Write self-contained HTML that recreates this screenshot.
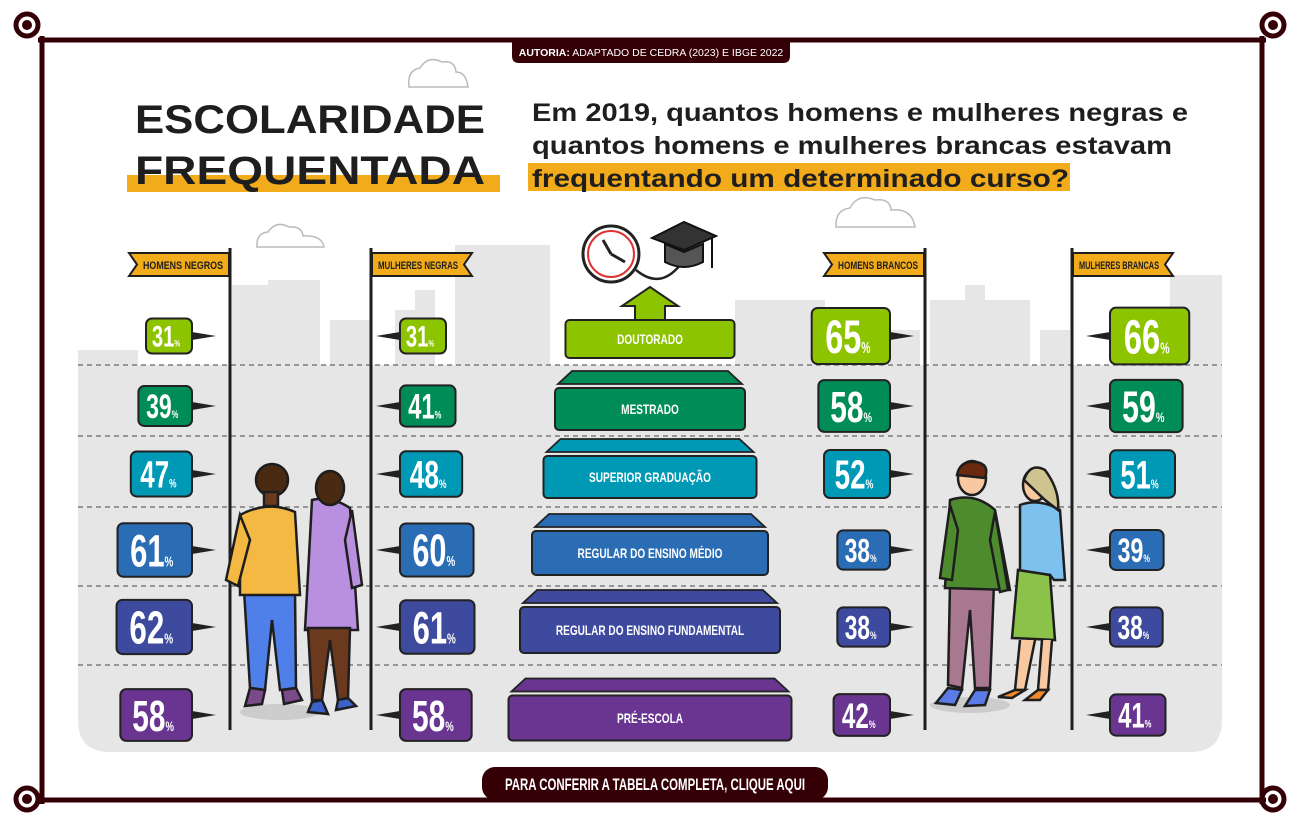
<!DOCTYPE html>
<html><head><meta charset="utf-8">
<style>
html,body{margin:0;padding:0;background:#fff;}
body{width:1300px;height:821px;overflow:hidden;position:relative;font-family:"Liberation Sans",sans-serif;}
svg{position:absolute;left:0;top:0;}
.cond{font-family:"Liberation Sans",sans-serif;font-weight:bold;}
</style></head>
<body>
<svg id="chart" width="1300" height="821" viewBox="0 0 1300 821">
  <g fill="#e6e6e6">
    <path d="M78 365 H1222 V720 Q1222 752 1190 752 H110 Q78 752 78 720 Z"/>
    <rect x="232" y="285" width="36" height="80"/>
    <rect x="268" y="280" width="52" height="85"/>
    <rect x="330" y="320" width="40" height="45"/>
    <rect x="395" y="310" width="30" height="55"/>
    <rect x="415" y="290" width="20" height="75"/>
    <rect x="455" y="245" width="95" height="120"/>
    <rect x="735" y="300" width="90" height="65"/>
    <rect x="890" y="330" width="30" height="35"/>
    <rect x="930" y="300" width="100" height="65"/>
    <rect x="965" y="285" width="20" height="20"/>
    <rect x="1040" y="330" width="30" height="35"/>
    <rect x="1170" y="275" width="52" height="90"/>
    <rect x="78" y="350" width="60" height="15"/>
  </g>
  <g stroke="#666" stroke-width="1.3" stroke-dasharray="5 4">
    <line x1="78" y1="365" x2="1222" y2="365"/>
    <line x1="78" y1="436" x2="1222" y2="436"/>
    <line x1="78" y1="507" x2="1222" y2="507"/>
    <line x1="78" y1="586" x2="1222" y2="586"/>
    <line x1="78" y1="665" x2="1222" y2="665"/>
  </g>
  <g fill="none" stroke="#bbb" stroke-width="1.5">
    <path d="M409 87 Q407 70 420 68 Q428 55 442 62 Q455 60 456 72 Q466 72 468 87 Z"/>
    <path d="M257 247 Q256 233 268 232 Q276 220 289 227 Q302 226 303 236 Q322 235 324 247 Z"/>
    <path d="M836 227 Q835 210 850 208 Q858 193 875 200 Q890 198 891 210 Q912 208 915 227 Z"/>
  </g>
  <g stroke="#350005" stroke-width="5" fill="none">
    <line x1="38" y1="40" x2="1266" y2="40"/>
    <line x1="38" y1="800" x2="1266" y2="800"/>
    <line x1="42" y1="36" x2="42" y2="804"/>
    <line x1="1262" y1="36" x2="1262" y2="804"/>
    <circle cx="27" cy="25" r="11"/><circle cx="1273" cy="25" r="11"/>
    <circle cx="27" cy="799" r="11"/><circle cx="1273" cy="799" r="11"/>
  </g>
  <g fill="#350005"><circle cx="27" cy="25" r="5"/><circle cx="1273" cy="25" r="5"/><circle cx="27" cy="799" r="5"/><circle cx="1273" cy="799" r="5"/></g>
  <g>
    <path d="M512 40 H790 V56 Q790 63 783 63 H519 Q512 63 512 56 Z" fill="#350005"/>
    <text x="651" y="56" text-anchor="middle" font-size="10.5" fill="#fff"><tspan font-weight="bold">AUTORIA:</tspan> ADAPTADO DE CEDRA (2023) E IBGE 2022</text>
  </g>
  <rect x="127" y="175" width="373" height="17" fill="#f2ab1a"/>
  <text x="135" y="133" font-size="40" font-weight="bold" fill="#1e1e1e" textLength="350" lengthAdjust="spacingAndGlyphs">ESCOLARIDADE</text>
  <text x="135" y="184" font-size="40" font-weight="bold" fill="#1e1e1e" textLength="350" lengthAdjust="spacingAndGlyphs">FREQUENTADA</text>
  <rect x="528" y="163" width="542" height="28" fill="#f2ab1a"/>
  <g font-size="25" font-weight="bold" fill="#1e1e1e">
    <text x="532" y="121" textLength="656" lengthAdjust="spacingAndGlyphs">Em 2019, quantos homens e mulheres negras e</text>
    <text x="532" y="154" textLength="640" lengthAdjust="spacingAndGlyphs">quantos homens e mulheres brancas estavam</text>
    <text x="532" y="187" textLength="537" lengthAdjust="spacingAndGlyphs">frequentando um determinado curso?</text>
  </g>
  <g stroke="#1e1e1e" stroke-width="3">
    <line x1="230" y1="248" x2="230" y2="730"/><line x1="371" y1="248" x2="371" y2="730"/>
    <line x1="925" y1="248" x2="925" y2="730"/><line x1="1072" y1="248" x2="1072" y2="730"/>
  </g>
  <g id="flags"></g>
  <g>
    <circle cx="611" cy="254" r="28" fill="#fff" stroke="#222" stroke-width="3"/>
    <circle cx="611" cy="254" r="23" fill="none" stroke="#d33" stroke-width="2"/>
    <line x1="611" y1="254" x2="603" y2="240" stroke="#222" stroke-width="3"/>
    <line x1="611" y1="254" x2="625" y2="262" stroke="#222" stroke-width="3"/>
    <path d="M636 270 Q660 290 680 265" fill="none" stroke="#222" stroke-width="2.5"/>
    <path d="M652 238 L684 222 L716 236 L684 250 Z" fill="#333" stroke="#111" stroke-width="2"/>
    <path d="M665 244 V262 Q684 272 703 262 V244 L684 252 Z" fill="#555" stroke="#111" stroke-width="2"/>
    <line x1="712" y1="238" x2="712" y2="268" stroke="#111" stroke-width="2"/>
    <path d="M635 320 L635 306 L622 306 L650 287 L678 306 L665 306 L665 320 Z" fill="#8dc400" stroke="#222" stroke-width="2"/>
  </g>
  <g id="steps"></g>
  <g id="bubbles"></g>
  <g stroke="#1e1e1e" stroke-width="2.5">
    <ellipse cx="280" cy="712" rx="40" ry="8" fill="#ccc" stroke="none"/>
    <path d="M244 590 L250 688 L265 690 L272 620 L280 690 L296 688 L295 590 Z" fill="#4f7fe8"/>
    <path d="M240 515 Q268 500 295 512 L300 595 L240 595 Z" fill="#f4b942"/>
    <path d="M240 515 L226 580 L238 586 L250 540 Z" fill="#f4b942"/>
    <circle cx="272" cy="480" r="16" fill="#4a2a10"/>
    <rect x="264" y="492" width="14" height="14" fill="#6b3a1e"/>
    <path d="M250 688 L245 706 L262 704 L265 690 Z" fill="#7a4a8a"/>
    <path d="M282 690 L284 704 L302 700 L296 688 Z" fill="#7a4a8a"/>
    <path d="M312 500 Q330 495 350 508 L358 630 L305 630 Z" fill="#b98fe0"/>
    <path d="M308 628 L312 700 L322 700 L330 640 L338 700 L348 698 L350 628 Z" fill="#6b3a1e"/>
    <path d="M352 510 L362 585 L352 588 L345 540 Z" fill="#b98fe0"/>
    <ellipse cx="330" cy="488" rx="14" ry="17" fill="#4a2a10"/>
    <path d="M312 702 L308 712 L328 714 L322 700 Z M338 700 L336 710 L356 706 L348 698 Z" fill="#3c62c9"/>
  </g>
  <g stroke="#1e1e1e" stroke-width="2.5">
    <ellipse cx="970" cy="705" rx="40" ry="8" fill="#ccc" stroke="none"/>
    <path d="M950 583 L948 685 L962 688 L970 610 L975 688 L990 688 L994 583 Z" fill="#a87890"/>
    <path d="M950 500 Q975 492 995 510 L1010 590 L945 588 Z" fill="#4e8a2e"/>
    <path d="M950 505 L940 578 L952 580 L958 530 Z" fill="#4e8a2e"/>
    <path d="M995 512 L1008 590 L1000 592 L990 540 Z" fill="#4e8a2e"/>
    <ellipse cx="972" cy="478" rx="14" ry="17" fill="#f8c9a0"/>
    <path d="M957 475 Q960 460 976 462 Q990 464 985 478 Z" fill="#6b2a10"/>
    <path d="M948 688 L936 703 L955 705 L962 690 Z M975 690 L965 706 L985 705 L990 690 Z" fill="#5a7be8"/>
    <path d="M1020 505 Q1040 498 1060 510 L1065 580 L1054 580 L1050 575 L1020 572 Z" fill="#7ec1ef"/>
    <path d="M1018 570 L1012 638 L1055 640 L1050 575 Z" fill="#8bc34a"/>
    <path d="M1020 640 L1015 690 L1025 690 L1035 640 M1042 640 L1038 690 L1048 690 L1052 640" fill="#f8c9a0"/>
    <ellipse cx="1035" cy="485" rx="12" ry="16" fill="#f8c9a0"/>
    <path d="M1024 480 Q1030 462 1045 470 Q1060 490 1058 510 L1045 500 Z" fill="#cfc38f"/>
    <path d="M1015 690 L998 697 L1012 698 L1025 690 Z M1038 690 L1025 700 L1040 700 L1048 690 Z" fill="#f08a2a"/>
  </g>
  <g>
    <rect x="482" y="767" width="346" height="33" rx="13" fill="#350005"/>
    <text x="655" y="790" text-anchor="middle" class="cond" font-size="17" fill="#fff" textLength="300" lengthAdjust="spacingAndGlyphs">PARA CONFERIR A TABELA COMPLETA, CLIQUE AQUI</text>
  </g>
</svg>
<script>
const NS='http://www.w3.org/2000/svg';
const levels=['DOUTORADO','MESTRADO','SUPERIOR GRADUAÇÃO','REGULAR DO ENSINO MÉDIO','REGULAR DO ENSINO FUNDAMENTAL','PRÉ-ESCOLA'];
const groups=['HOMENS NEGROS','MULHERES NEGRAS','HOMENS BRANCOS','MULHERES BRANCAS'];
const homensNegros=[31,39,47,61,62,58];
const mulheresNegras=[31,41,48,60,61,58];
const homensBrancos=[65,58,52,38,38,42];
const mulheresBrancas=[66,59,51,39,38,41];
const colors=['#8dc400','#008c56','#0099b5','#2a6db5','#3e4a9e','#6a3591'];

const rowY=[336,406,474,550,627,715];
function el(tag,attrs,parent){const e=document.createElementNS(NS,tag);for(const k in attrs)e.setAttribute(k,attrs[k]);parent.appendChild(e);return e;}
function bh(v){return 35+(v-31)*0.62;}
function bw(v){return 46+(v-31)*0.95;}

const fl=document.getElementById('flags');
const flagDefs=[[232,'r'],[369,'l'],[927,'r'],[1070,'l']];
groups.forEach((g,i)=>{
  const [x,dir]=flagDefs[i];const w=98;const x0=dir==='r'?x-w-3:x+3;
  const gg=el('g',{},fl);
  
  
  const y0=253,y1=276;
  let d;
  if(dir==='r') d=`M${x0-2} ${y0} L${x0+w} ${y0} L${x0+w} ${y1} L${x0-2} ${y1} L${x0+6} ${(y0+y1)/2} Z`;
  else d=`M${x0} ${y0} L${x0+w+2} ${y0} L${x0+w-6} ${(y0+y1)/2} L${x0+w+2} ${y1} L${x0} ${y1} Z`;
  el('path',{d:d,fill:'#f2ab1a',stroke:'#1e1e1e','stroke-width':2},gg);
  const t=el('text',{x:x0+w/2+(dir==='r'?3:-3),y:269,'text-anchor':'middle','font-size':11,fill:'#1e1e1e',class:'cond',textLength:80,lengthAdjust:'spacingAndGlyphs'},gg);
  t.textContent=g;
});

const stepW=[169,190,213,236,260,283];
const stepH=[38,42,42,44,46,45];
const st=document.getElementById('steps');
levels.forEach((lv,i)=>{
  const cx=650,y=rowY[i]-stepH[i]/2+3,w=stepW[i],h=stepH[i];
  const g=el('g',{},st);
  
  
  if(i>0){
    const ty=y-17,tw=w-6;
    el('path',{d:`M${cx-tw/2+14} ${ty} H${cx+tw/2-14} L${cx+tw/2} ${ty+13} H${cx-tw/2} Z`,fill:colors[i],stroke:'#222','stroke-width':1.8},g);
  }
  el('rect',{x:cx-w/2,y:y,width:w,height:h,rx:4,fill:colors[i],stroke:'#222','stroke-width':2},g);
  const tg=el('g',{transform:`translate(${cx} ${y+h/2+5}) scale(0.72 1)`},g);
  const t=el('text',{x:0,y:0,'text-anchor':'middle','font-size':14,fill:'#fff',class:'cond'},tg);
  t.textContent=lv;
});

const series=[[homensNegros,'right',192,'homens-negros'],[mulheresNegras,'left',400,'mulheres-negras'],[homensBrancos,'right',890,'homens-brancos'],[mulheresBrancas,'left',1110,'mulheres-brancas']];
const bb=document.getElementById('bubbles');
series.forEach(([vals,side,anchor,name])=>{
  vals.forEach((v,i)=>{
    const h=bh(v),w=bw(v),cy=rowY[i];
    const x=side==='right'?anchor-w:anchor;
    const g=el('g',{},bb);
    
    
    const tx=side==='right'?anchor+24:anchor-24;
    el('path',{d:`M${anchor} ${cy-4} L${tx} ${cy} L${anchor} ${cy+4} Z`,fill:'#222'},g);
    el('rect',{x:x,y:cy-h/2,width:w,height:h,rx:6,fill:colors[i],stroke:'#222','stroke-width':2},g);
    const fs=h*0.85;
    const tg=el('g',{transform:`translate(${x+w/2-3} ${cy+fs*0.36}) scale(0.68 1)`},g);
    const t=el('text',{x:0,y:0,'text-anchor':'middle','font-size':fs,fill:'#fff',class:'cond'},tg);
    t.textContent=v;
    const p=el('tspan',{'font-size':fs*0.32},t);p.textContent='%';
  });
});
</script>
</body></html>
